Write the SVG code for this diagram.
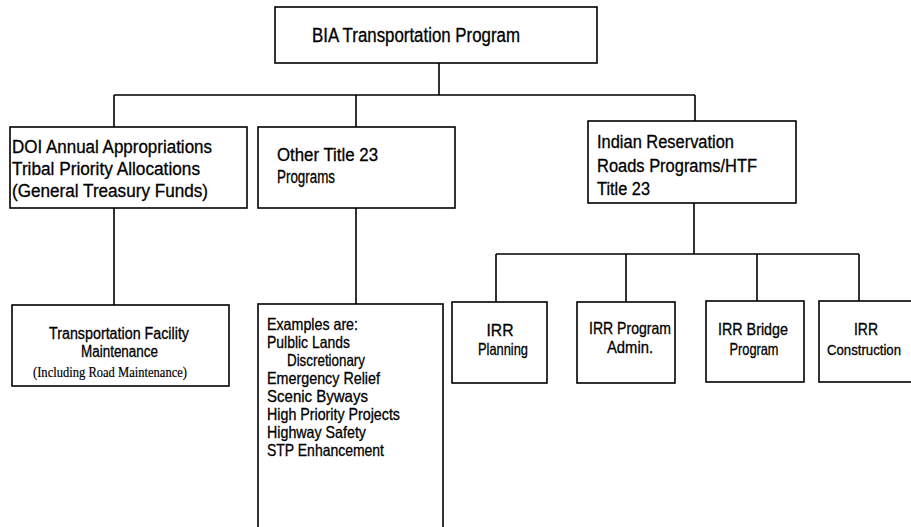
<svg xmlns="http://www.w3.org/2000/svg" width="911" height="527" viewBox="0 0 911 527">
<style>
.box{fill:#fff;stroke:#000;stroke-width:1.6}
.ln{fill:none;stroke:#000;stroke-width:1.6}
.t{font-family:"Liberation Sans",Arial,sans-serif;fill:#000;stroke:#000;stroke-width:0.3}
.big{font-size:19.5px}
.mid{font-size:18px}
.sm{font-size:16.5px}
.xs{font-size:16px}
.c{text-anchor:middle}
.serif{font-family:"Liberation Serif","Times New Roman",serif;font-size:15px;fill:#000;stroke:#000;stroke-width:0.2}
</style>
<rect width="911" height="527" fill="#fff"/>
<g id="connectors">
<path class="ln" d="M439 63V95M114 95H695M114 95V127M356 95V127M695 95V121"/>
<path class="ln" d="M114 208V305M356 208V304"/>
<path class="ln" d="M694 203V254M496 254H859M496 254V302M626 254V302M757 254V301M859 254V301"/>
</g>
<g id="root">
<rect class="box" x="275" y="7" width="322" height="56"/>
<text class="t big" x="312" y="42" textLength="208" lengthAdjust="spacingAndGlyphs">BIA Transportation  Program</text>
</g>
<g id="doi">
<rect class="box" x="10" y="127" width="237" height="81"/>
<text class="t mid" x="12" y="153" textLength="200" lengthAdjust="spacingAndGlyphs">DOI Annual Appropriations</text>
<text class="t mid" x="12" y="175" textLength="188" lengthAdjust="spacingAndGlyphs">Tribal Priority Allocations</text>
<text class="t mid" x="12" y="197" textLength="196" lengthAdjust="spacingAndGlyphs">(General Treasury Funds)</text>
</g>
<g id="other">
<rect class="box" x="258" y="127" width="197" height="81"/>
<text class="t mid" x="277" y="161" textLength="101" lengthAdjust="spacingAndGlyphs">Other Title 23</text>
<text class="t mid" x="277" y="183" textLength="58" lengthAdjust="spacingAndGlyphs">Programs</text>
</g>
<g id="irr">
<rect class="box" x="588" y="121" width="208" height="82"/>
<text class="t mid" x="597" y="148" textLength="137" lengthAdjust="spacingAndGlyphs">Indian Reservation</text>
<text class="t mid" x="597" y="172" textLength="160" lengthAdjust="spacingAndGlyphs">Roads Programs/HTF</text>
<text class="t mid" x="597" y="195" textLength="53" lengthAdjust="spacingAndGlyphs">Title 23</text>
</g>
<g id="tfm">
<rect class="box" x="12" y="305" width="217" height="81"/>
<text class="t xs c" x="119" y="339" textLength="140" lengthAdjust="spacingAndGlyphs">Transportation  Facility</text>
<text class="t xs c" x="119.5" y="357" textLength="77" lengthAdjust="spacingAndGlyphs">Maintenance</text>
<text class="serif" x="110" y="377" text-anchor="middle" textLength="154" lengthAdjust="spacingAndGlyphs">(Including Road Maintenance)</text>
</g>
<g id="examples">
<rect class="box" x="258" y="304" width="185" height="240"/>
<text class="t sm" x="267" y="330" textLength="91" lengthAdjust="spacingAndGlyphs">Examples  are:</text>
<text class="t sm" x="267" y="348" textLength="83" lengthAdjust="spacingAndGlyphs">Pulblic Lands</text>
<text class="t sm" x="287" y="366" textLength="78" lengthAdjust="spacingAndGlyphs">Discretionary</text>
<text class="t sm" x="267" y="384" textLength="113" lengthAdjust="spacingAndGlyphs">Emergency  Relief</text>
<text class="t sm" x="267" y="402" textLength="101" lengthAdjust="spacingAndGlyphs">Scenic  Byways</text>
<text class="t sm" x="267" y="420" textLength="133" lengthAdjust="spacingAndGlyphs">High  Priority  Projects</text>
<text class="t sm" x="267" y="438" textLength="99" lengthAdjust="spacingAndGlyphs">Highway  Safety</text>
<text class="t sm" x="267" y="456" textLength="117" lengthAdjust="spacingAndGlyphs">STP  Enhancement</text>
</g>
<g id="planning">
<rect class="box" x="452" y="302" width="95" height="81"/>
<text class="t sm c" x="500" y="336" textLength="27" lengthAdjust="spacingAndGlyphs">IRR</text>
<text class="t sm c" x="503" y="355" textLength="50" lengthAdjust="spacingAndGlyphs">Planning</text>
</g>
<g id="admin">
<rect class="box" x="577" y="302" width="98" height="81"/>
<text class="t sm c" x="630" y="334" textLength="82" lengthAdjust="spacingAndGlyphs">IRR Program</text>
<text class="t sm c" x="630" y="353" textLength="46" lengthAdjust="spacingAndGlyphs">Admin.</text>
</g>
<g id="bridge">
<rect class="box" x="706" y="301" width="98" height="81"/>
<text class="t sm c" x="753" y="335" textLength="70" lengthAdjust="spacingAndGlyphs">IRR Bridge</text>
<text class="t sm c" x="754" y="355" textLength="49" lengthAdjust="spacingAndGlyphs">Program</text>
</g>
<g id="construction">
<rect class="box" x="819" y="301" width="110" height="81"/>
<text class="t sm c" x="866" y="335" textLength="24" lengthAdjust="spacingAndGlyphs">IRR</text>
<text class="t c" style="font-size:15px" x="864" y="355" textLength="74" lengthAdjust="spacingAndGlyphs">Construction</text>
</g>
</svg>
